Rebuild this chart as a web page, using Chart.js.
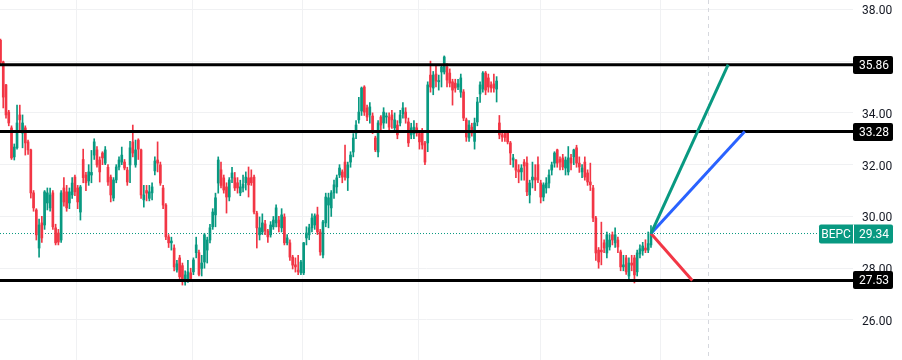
<!DOCTYPE html>
<html><head><meta charset="utf-8">
<script src="https://cdn.jsdelivr.net/npm/chart.js@4.4.1/dist/chart.umd.min.js"></script>
<style>html,body{margin:0;padding:0;background:#fff}#wrap{width:902px;height:360px;position:relative}</style>
</head><body><div id="wrap"><canvas id="c"></canvas></div>
<script>
const ticker = 'BEPC';
const lastPrice = 29.34;
const opens = [36.8,35.97,35.08,34.03,33.42,32.3,32.65,33.92,33.22,33.42,32.88,32.57,30.91,30.25,28.78,29.75,29.67,30.52,30.33,30.91,29.56,29.36,29.09,31.1,30.95,30.52,30.83,31.52,31.1,30.17,32.2,31.6,31.37,31.6,32.37,32.57,32.18,32.45,32.06,31.9,31.52,30.71,31.41,31.91,32.1,32.1,31.79,31.99,32.88,31.99,32.95,32.57,30.64,31.0,30.7,30.91,31.76,32.18,31.99,31.1,30.44,29.21,28.98,28.78,27.93,28.4,28.1,27.47,27.55,27.82,27.86,28.6,28.6,27.99,28.24,28.7,29.09,29.6,30.06,31.29,31.8,31.49,31.14,30.75,31.49,31.49,31.3,30.91,31.1,31.3,31.49,31.5,31.52,30.13,29.29,29.4,29.71,29.44,29.29,29.6,29.75,29.86,29.56,29.98,28.98,28.98,28.43,28.13,27.93,27.82,27.82,29.17,29.29,29.56,29.67,30.06,29.4,28.51,29.75,30.44,30.33,30.91,31.14,31.6,31.72,32.1,31.49,32.1,32.49,33.22,33.73,34.07,35.0,34.19,33.92,33.88,33.03,32.49,33.84,33.61,33.84,33.84,33.92,33.42,33.53,33.61,33.96,34.03,33.65,33.15,33.2,33.42,33.2,33.3,32.84,32.84,35.46,34.96,35.5,35.2,35.58,35.58,35.77,35.54,35.2,35.15,35.0,34.8,34.81,33.73,33.03,33.45,32.9,33.65,34.73,34.92,35.54,35.35,35.08,35.12,34.92,33.61,33.15,33.2,33.25,32.84,32.18,32.18,31.8,31.72,32.1,32.06,30.83,31.41,31.5,32.0,31.29,30.75,31.1,31.29,31.79,32.06,32.57,32.2,32.26,31.87,31.72,32.26,32.3,32.65,32.06,31.72,32.1,31.68,31.33,31.1,29.94,28.7,28.7,28.98,28.59,28.82,29.29,28.98,29.09,28.63,28.05,28.4,27.7,28.2,28.4,27.86,28.55,28.67,28.78,28.7,28.9];
const highs = [36.85,36.0,35.1,34.1,33.5,32.8,34.3,34.3,33.92,33.5,32.95,32.6,31.0,30.3,29.9,30.0,31.0,31.1,31.1,31.0,29.7,29.5,31.0,31.5,31.2,31.1,31.5,31.6,31.2,31.2,32.6,31.7,32.0,32.55,33.0,32.7,32.3,32.5,32.7,32.0,31.6,31.5,32.0,32.3,32.68,32.2,31.9,32.9,33.53,32.95,33.0,32.6,31.2,31.2,31.2,31.3,32.3,32.88,32.1,31.2,30.5,29.3,29.2,28.9,28.3,28.5,28.2,27.9,28.3,28.0,28.4,29.2,28.7,28.5,29.35,29.2,29.7,30.3,30.9,32.3,32.1,31.6,31.3,31.5,31.9,31.7,31.5,31.4,31.6,31.72,31.91,31.8,31.6,30.2,29.98,30.1,29.85,29.5,29.8,30.0,30.45,30.0,30.3,30.1,29.3,29.1,28.5,28.4,28.5,28.3,29.0,29.6,29.7,30.1,30.1,30.36,29.5,29.85,30.9,30.9,31.0,31.4,31.6,32.0,31.8,32.76,32.1,32.5,33.2,33.7,34.6,35.0,35.05,34.3,34.4,34.0,33.1,33.7,33.9,34.2,34.0,34.0,34.1,34.0,33.7,34.1,34.4,34.2,33.8,33.6,33.7,33.6,33.3,33.4,32.9,35.2,36.0,35.6,35.8,35.46,35.8,36.2,35.9,35.7,35.3,35.3,35.3,35.5,34.9,33.8,33.7,33.6,33.8,34.6,35.2,35.6,35.6,35.5,35.2,35.5,35.4,33.9,33.3,33.3,33.3,32.9,32.4,32.2,32.0,32.0,32.2,32.3,31.4,32.1,32.0,32.3,31.4,31.3,31.5,31.8,32.1,32.5,32.6,32.3,32.4,32.3,32.7,32.4,32.6,32.75,32.3,32.0,32.3,31.8,32.06,31.2,30.0,28.8,29.78,29.1,29.4,29.3,29.4,29.56,29.2,28.7,28.5,28.5,28.4,28.5,28.5,28.7,28.9,29.0,29.1,29.4,29.65];
const lows = [35.9,34.19,33.8,33.5,32.2,32.18,32.6,33.3,32.65,32.37,32.4,30.71,30.2,29.09,28.43,29.0,29.5,30.25,30.2,29.5,28.9,28.9,29.0,30.4,30.2,30.3,30.7,30.8,30.3,29.86,31.3,31.0,31.2,31.3,32.2,31.9,31.33,32.0,32.0,31.2,30.56,30.6,31.3,31.8,32.0,31.8,31.2,31.3,32.3,31.9,32.2,30.7,30.36,30.6,30.6,30.64,31.6,31.72,31.2,30.3,29.1,28.8,28.7,27.9,27.85,27.6,27.35,27.35,27.45,27.5,27.75,28.4,27.7,27.7,28.0,28.2,28.98,29.5,29.6,30.9,31.1,30.9,30.13,30.6,31.3,31.0,30.9,30.8,30.95,31.02,30.75,31.2,30.1,28.78,29.09,29.3,29.3,29.0,29.2,29.5,29.6,29.4,29.4,28.9,28.9,28.3,27.97,27.85,27.75,27.75,27.75,28.9,29.1,29.4,29.5,29.3,28.5,28.4,29.6,29.56,30.0,30.7,30.9,31.5,31.3,31.4,31.0,31.9,32.3,33.0,33.6,33.9,33.9,33.7,33.6,33.2,32.5,32.3,33.3,33.4,33.6,33.3,33.4,33.3,33.0,33.5,33.8,33.6,32.7,33.0,33.0,33.1,32.6,32.6,32.0,32.5,34.8,34.7,35.0,34.88,35.0,35.5,35.0,35.0,34.3,34.8,34.9,34.6,33.7,32.9,32.9,33.1,32.6,33.5,34.4,34.8,34.7,34.8,34.8,34.8,34.42,33.0,32.9,32.9,32.8,32.0,31.9,31.5,31.3,31.4,31.4,30.8,30.52,31.1,31.0,31.3,30.52,30.6,30.9,31.1,31.6,31.9,31.9,31.8,31.8,31.6,31.6,31.8,32.0,31.9,31.7,31.5,31.4,31.2,31.0,29.8,28.3,28.0,28.13,28.6,28.4,28.7,28.9,28.8,28.6,27.9,27.9,27.76,27.6,27.9,27.43,27.7,28.4,28.5,28.6,28.6,28.8];
const closes = [35.95,34.61,33.92,33.61,32.26,32.68,33.61,33.73,33.61,32.84,32.57,30.91,30.33,29.29,29.67,29.17,30.95,30.91,30.83,29.6,28.98,29.01,30.91,30.56,30.33,30.95,31.29,30.95,30.56,31.14,31.5,31.3,31.72,31.7,32.88,31.99,31.72,32.26,32.57,31.33,30.83,31.41,31.91,32.18,32.37,31.87,31.33,32.65,32.45,32.57,32.6,30.83,30.83,30.9,30.95,31.14,32.14,32.06,31.29,30.44,29.21,28.98,29.05,28.05,28.17,27.67,27.55,27.74,27.86,27.6,28.32,28.9,27.76,28.2,29.29,29.09,29.56,30.17,30.72,32.18,31.2,31.02,30.75,31.41,31.68,31.1,31.1,31.14,31.25,31.52,31.22,31.3,30.17,29.56,29.56,29.75,29.44,29.21,29.67,29.86,30.33,29.6,30.06,28.98,29.17,28.43,28.12,28.05,27.86,28.24,28.98,29.36,29.56,29.94,30.02,29.4,28.63,29.79,30.75,30.72,30.91,31.22,31.49,31.87,31.52,31.52,31.99,32.37,33.03,33.53,34.03,34.96,34.03,33.84,34.23,33.34,32.57,33.61,33.53,34.03,33.88,33.45,33.73,33.73,33.15,33.92,34.19,33.8,32.84,33.42,33.45,33.22,32.88,32.76,32.1,35.08,35.0,35.46,35.23,35.25,35.77,36.16,35.27,35.15,34.88,34.96,35.12,35.35,33.8,33.07,33.53,33.22,33.61,34.42,35.08,35.54,34.88,35.0,34.96,34.96,35.23,33.15,33.07,33.05,32.88,32.45,32.26,31.79,31.72,31.87,31.95,30.95,31.29,31.52,31.41,31.41,30.75,31.22,31.29,31.6,31.99,32.45,32.06,32.1,31.91,32.18,32.26,32.06,32.57,32.06,31.91,31.87,31.52,31.33,31.22,29.94,28.59,28.24,28.63,28.78,29.29,29.09,29.09,29.29,28.82,28.05,28.13,27.86,28.2,28.12,27.74,28.59,28.75,28.86,28.7,28.95,29.34];
const levels = [35.86, 33.28, 27.53];
const projTargets = [35.86, 33.28, 27.53];
const projEnds = [264, 270, 251];
const priceTicks = [26, 28, 30, 32, 34, 36, 38];
const dateTicks = [27.4, 69.5, 109.4, 151.5, 195.8, 239.3];
const todayMark = 256.7;

const GREEN = '#089981', RED = '#F23645', BLUE = '#2962FF';
const projColors = [GREEN, BLUE, RED];
const idx = closes.map((_, i) => i);
const lastIdx = idx.length - 1;
const candleColors = idx.map(i => closes[i] >= opens[i] ? GREEN : RED);
const xMin = -0.18, xMax = 309.3;

function rrect(ctx, x, y, w, h, r, fill) {
  ctx.beginPath();
  ctx.moveTo(x + r, y); ctx.lineTo(x + w - r, y); ctx.quadraticCurveTo(x + w, y, x + w, y + r);
  ctx.lineTo(x + w, y + h - r); ctx.quadraticCurveTo(x + w, y + h, x + w - r, y + h);
  ctx.lineTo(x + r, y + h); ctx.quadraticCurveTo(x, y + h, x, y + h - r);
  ctx.lineTo(x, y + r); ctx.quadraticCurveTo(x, y, x + r, y);
  ctx.closePath(); ctx.fillStyle = fill; ctx.fill();
}

const overlay = {
  id: 'overlay',
  beforeDatasetsDraw(chart) {
    const { ctx, chartArea: a, scales: { x } } = chart;
    const px = Math.round(x.getPixelForValue(todayMark)) + 0.5;
    ctx.save();
    ctx.strokeStyle = '#d6d8de'; ctx.lineWidth = 1; ctx.setLineDash([4, 4]);
    ctx.beginPath(); ctx.moveTo(px, a.top); ctx.lineTo(px, a.bottom); ctx.stroke();
    ctx.restore();
  },
  afterDraw(chart) {
    const { ctx, chartArea: a, scales: { y } } = chart;
    ctx.save();
    ctx.font = '12px Roboto';
    ctx.textAlign = 'center'; ctx.textBaseline = 'middle';
    levels.forEach(v => {
      const py = Math.round(y.getPixelForValue(v));
      rrect(ctx, a.right, py - 9, 40, 18, 2, '#000');
      ctx.fillStyle = '#fff';
      ctx.fillText(v.toFixed(2), a.right + 21, py + 1);
    });
    const py = Math.round(y.getPixelForValue(lastPrice));
    rrect(ctx, a.right - 34, py - 9.5, 74, 19, 2, GREEN);
    ctx.fillStyle = '#fff';
    ctx.fillRect(a.right, py - 9.5, 1, 19);
    ctx.fillText(ticker, a.right - 17, py + 1);
    ctx.fillText(lastPrice.toFixed(2), a.right + 21, py + 1);
    ctx.restore();
  }
};

const hline = (v, color, width, dash, order) => ({
  type: 'line', data: [{ x: xMin, y: v }, { x: xMax, y: v }],
  borderColor: color, borderWidth: width, borderDash: dash, pointRadius: 0, order
});

new Chart(document.getElementById('c'), {
  type: 'bar',
  data: {
    datasets: [
      hline(lastPrice, GREEN, 1, [1, 2], 6),
      { type: 'bar', data: idx.map(i => ({ x: i, y: [lows[i], highs[i]] })), backgroundColor: candleColors,
        barThickness: 1, grouped: false, borderWidth: 0, order: 5 },
      { type: 'bar', data: idx.map(i => ({ x: i, y: [opens[i], closes[i]] })), backgroundColor: candleColors,
        barThickness: 2, minBarLength: 1, grouped: false, borderWidth: 0, order: 4 },
      ...levels.map(v => hline(v, '#000', 3, [], 3)),
      ...projTargets.map((v, k) => ({
        type: 'line', data: [{ x: lastIdx, y: lastPrice }, { x: projEnds[k], y: v }],
        borderColor: projColors[k], borderWidth: 3, pointRadius: 0, order: 1
      }))
    ]
  },
  options: {
    responsive: true, maintainAspectRatio: false, animation: false, events: [],
    layout: { padding: 0 },
    plugins: { legend: { display: false }, tooltip: { enabled: false } },
    scales: {
      x: {
        type: 'linear', min: xMin, max: xMax, offset: false,
        grid: { color: '#f0f1f3', drawTicks: false, offset: false },
        border: { display: false },
        ticks: { display: false },
        afterBuildTicks: s => { s.ticks = dateTicks.map(v => ({ value: v })); },
        afterFit: s => { s.height = 0; s.paddingLeft = 0; s.paddingRight = 0; }
      },
      y: {
        position: 'right', min: 24.455, max: 38.36,
        grid: { color: '#f0f1f3', drawTicks: false },
        border: { display: false },
        ticks: {
          padding: 9, labelOffset: 2, color: '#131722', font: { family: 'Roboto', size: 12 },
          callback: v => levels.some(l => Math.abs(l - v) < 0.3) ? '' : Number(v).toFixed(2)
        },
        afterBuildTicks: s => { s.ticks = priceTicks.map(v => ({ value: v })); },
        afterFit: s => { s.width = 49; s.paddingTop = 0; s.paddingBottom = 0; }
      }
    }
  },
  plugins: [overlay]
});
</script>
</body></html>
